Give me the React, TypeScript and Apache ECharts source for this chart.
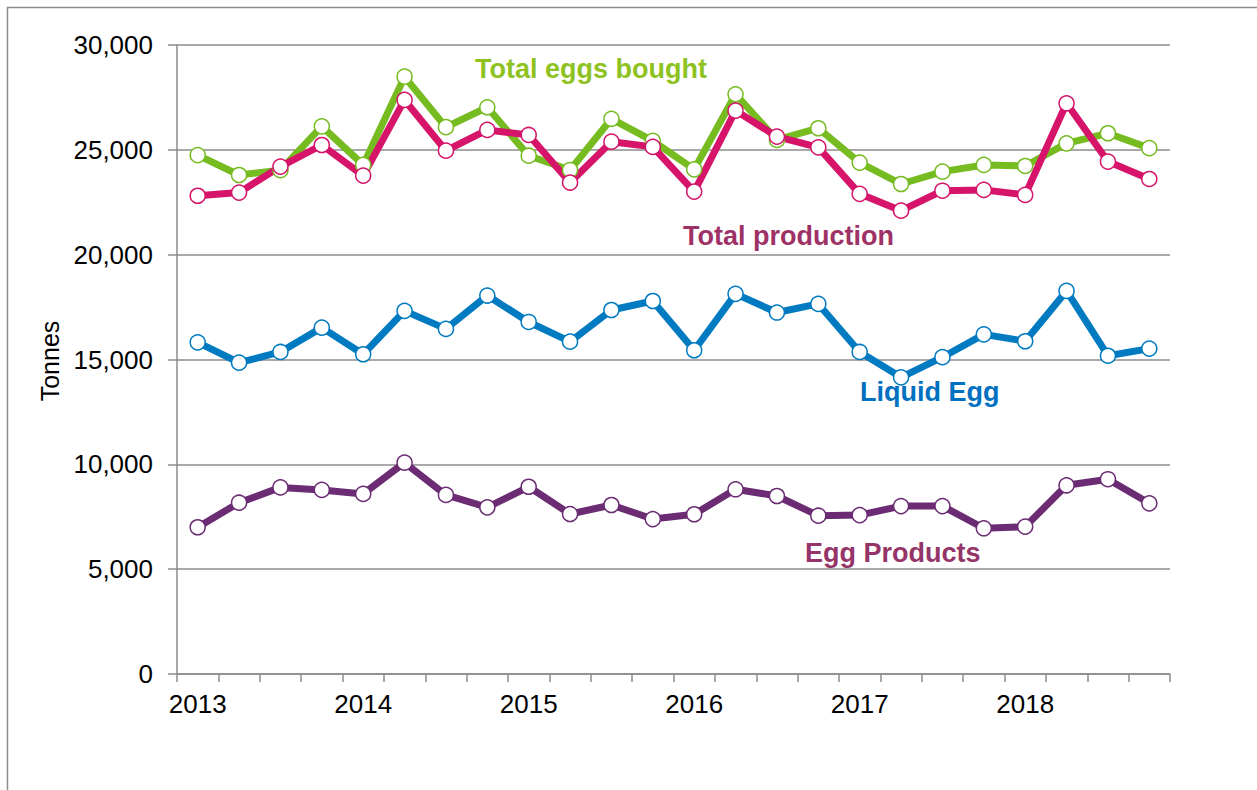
import React, { useEffect, useRef } from "react";
import * as echarts from "echarts";

const quarters: string[] = [
  "2013 Q1", "2013 Q2", "2013 Q3", "2013 Q4",
  "2014 Q1", "2014 Q2", "2014 Q3", "2014 Q4",
  "2015 Q1", "2015 Q2", "2015 Q3", "2015 Q4",
  "2016 Q1", "2016 Q2", "2016 Q3", "2016 Q4",
  "2017 Q1", "2017 Q2", "2017 Q3", "2017 Q4",
  "2018 Q1", "2018 Q2", "2018 Q3", "2018 Q4",
];

const totalEggsBought: number[] = [
  24750, 23800, 24030, 26120, 24280, 28490, 26080, 27030,
  24720, 24040, 26480, 25430, 24070, 27650, 25470, 26030,
  24390, 23370, 23960, 24280, 24230, 25310, 25790, 25080,
];

const totalProduction: number[] = [
  22810, 22960, 24200, 25230, 23770, 27380, 24960, 25950,
  25710, 23440, 25390, 25140, 23010, 26870, 25630, 25120,
  22900, 22100, 23050, 23090, 22850, 27220, 24440, 23610,
];

const liquidEgg: number[] = [
  15820, 14850, 15360, 16520, 15250, 17320, 16460, 18050,
  16790, 15850, 17360, 17790, 15440, 18130, 17240, 17650,
  15360, 14150, 15110, 16200, 15870, 18270, 15180, 15520,
];

const eggProducts: number[] = [
  7000, 8170, 8900, 8780, 8590, 10080, 8540, 7950,
  8930, 7630, 8060, 7390, 7620, 8810, 8490, 7550,
  7580, 8010, 8010, 6950, 7030, 9000, 9290, 8140,
];

const yTicks = { min: 0, max: 30000, interval: 5000 };

const FONT = "Liberation Sans, Arial, Helvetica, sans-serif";
const GREY = "#8c8c8c";

function lineSeries(name: string, data: number[], color: string) {
  return {
    name,
    type: "line",
    data,
    symbol: "circle",
    symbolSize: 15,
    showSymbol: true,
    lineStyle: { color, width: 7 },
    itemStyle: { color: "#ffffff", borderColor: color, borderWidth: 1.5 },
    emphasis: { disabled: true },
  };
}

function label(text: string, x: number, y: number, fill: string) {
  return {
    type: "text",
    x,
    y,
    style: {
      text,
      fontSize: 27,
      fontWeight: "bold",
      fontFamily: FONT,
      fill,
      align: "left",
      verticalAlign: "middle",
    },
  };
}

export default function App() {
  const ref = useRef<HTMLDivElement>(null);

  useEffect(() => {
    if (!ref.current) return;
    const chart = echarts.init(ref.current, undefined, { renderer: "svg" });
    chart.setOption({
      animation: false,
      backgroundColor: "#ffffff",
      grid: { left: 177, right: 87, top: 45, bottom: 116, containLabel: false },
      xAxis: {
        type: "category",
        data: quarters,
        boundaryGap: true,
        axisLine: { show: true, lineStyle: { color: GREY, width: 1.5 } },
        axisTick: { show: true, interval: 0, length: 8, lineStyle: { color: GREY, width: 1.5 } },
        axisLabel: {
          interval: 3,
          margin: 17,
          formatter: (v: string) => v.slice(0, 4),
          color: "#000000",
          fontSize: 26,
          fontFamily: FONT,
        },
        splitLine: { show: false },
      },
      yAxis: {
        type: "value",
        min: yTicks.min,
        max: yTicks.max,
        interval: yTicks.interval,
        axisLine: { show: true, lineStyle: { color: GREY, width: 1.5 } },
        axisTick: { show: true, length: 9, lineStyle: { color: GREY, width: 1.5 } },
        axisLabel: {
          margin: 24,
          color: "#000000",
          fontSize: 26,
          fontFamily: FONT,
          formatter: (v: number) => v.toLocaleString("en-US"),
        },
        splitLine: { show: true, lineStyle: { color: GREY, width: 1.5 } },
      },
      series: [
        lineSeries("Total eggs bought", totalEggsBought, "#76BC21"),
        lineSeries("Total production", totalProduction, "#D5146A"),
        lineSeries("Liquid Egg", liquidEgg, "#007AC0"),
        lineSeries("Egg Products", eggProducts, "#6B2C74"),
      ],
      graphic: [
        {
          type: "rect",
          silent: true,
          shape: { x: 7.5, y: 7.5, width: 1270, height: 800 },
          style: { fill: "none", stroke: GREY, lineWidth: 1.5 },
        },
        {
          type: "text",
          x: 50,
          y: 361,
          rotation: Math.PI / 2,
          style: {
            text: "Tonnes",
            fontSize: 25,
            fontFamily: FONT,
            fill: "#000000",
            align: "center",
            verticalAlign: "middle",
          },
        },
        label("Total eggs bought", 475, 69, "#8DC21F"),
        label("Total production", 683, 236, "#9E3266"),
        label("Liquid Egg", 860, 392, "#0070C0"),
        label("Egg Products", 805, 553, "#953468"),
      ],
    });
    return () => chart.dispose();
  }, []);

  return (
    <div
      ref={ref}
      style={{ position: "fixed", left: 0, top: 0, width: 1257, height: 790, background: "#fff" }}
    />
  );
}
